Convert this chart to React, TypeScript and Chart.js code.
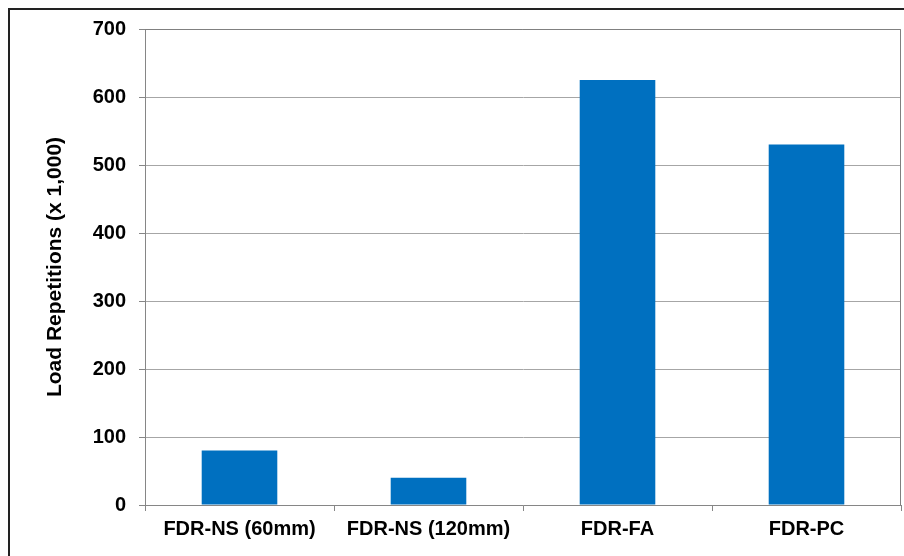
import React, { useEffect, useRef } from "react";
import { Chart, registerables } from "chart.js";

Chart.register(...registerables);

const categories = ["FDR-NS (60mm)", "FDR-NS (120mm)", "FDR-FA", "FDR-PC"];
const loadRepetitions = [80, 40, 625, 530];
const yTicks = [0, 100, 200, 300, 400, 500, 600, 700];
const yTitle = "Load Repetitions (x 1,000)";

const FONT = "Arial, 'Liberation Sans', sans-serif";

const plotBorder = {
  id: "plotBorder",
  afterDraw(chart: any) {
    const { ctx, chartArea } = chart;
    ctx.save();
    ctx.strokeStyle = "#808080";
    ctx.lineWidth = 1;
    ctx.beginPath();
    ctx.moveTo(chartArea.left, chartArea.top + 0.5);
    ctx.lineTo(chartArea.right - 0.5, chartArea.top + 0.5);
    ctx.lineTo(chartArea.right - 0.5, chartArea.bottom);
    ctx.stroke();
    ctx.restore();
  },
};

export default function App() {
  const ref = useRef<HTMLCanvasElement | null>(null);
  useEffect(() => {
    if (!ref.current) return;
    const chart = new Chart(ref.current, {
      type: "bar",
      data: {
        labels: categories,
        datasets: [
          {
            data: loadRepetitions,
            backgroundColor: "#0070C0",
            borderWidth: 0,
            categoryPercentage: 1,
            barPercentage: 0.4,
          },
        ],
      },
      plugins: [plotBorder],
      options: {
        animation: false,
        responsive: true,
        maintainAspectRatio: false,
        layout: { padding: { left: 0, top: 19, right: 3, bottom: 0 } },
        plugins: {
          legend: { display: false },
          tooltip: { enabled: false },
        },
        scales: {
          x: {
            afterFit: (s: any) => {
              s.height = 51;
              s.paddingLeft = 0;
              s.paddingRight = 0;
            },
            grid: {
              drawOnChartArea: false,
              drawTicks: true,
              tickLength: 6,
              color: "#868686",
              offset: true,
            },
            border: { color: "#868686" },
            ticks: {
              color: "#000",
              padding: 6,
              maxRotation: 0,
              autoSkip: false,
              font: { family: FONT, size: 20, weight: "bold" },
            },
          },
          y: {
            min: 0,
            max: 700,
            afterFit: (s: any) => {
              s.width = 135;
              s.paddingTop = 0;
              s.paddingBottom = 0;
            },
            afterBuildTicks: (s: any) => {
              s.ticks = yTicks.map((v) => ({ value: v }));
            },
            grid: {
              color: "#a6a6a6",
              tickColor: "#868686",
              tickLength: 6,
            },
            border: { color: "#868686" },
            ticks: {
              color: "#000",
              padding: 13,
              font: { family: FONT, size: 20, weight: "bold" },
            },
            title: {
              display: true,
              text: yTitle,
              color: "#000",
              padding: { top: 33, bottom: 0 },
              font: { family: FONT, size: 21, weight: "bold" },
            },
          },
        },
      },
    });
    return () => chart.destroy();
  }, []);

  return (
    <div
      style={{
        position: "fixed",
        left: 8,
        top: 8,
        width: 896,
        height: 548,
        boxSizing: "border-box",
        borderTop: "2px solid #222",
        borderLeft: "2px solid #222",
        background: "#fff",
      }}
    >
      <div style={{ position: "relative", width: 894, height: 546 }}>
        <canvas ref={ref} />
      </div>
    </div>
  );
}
